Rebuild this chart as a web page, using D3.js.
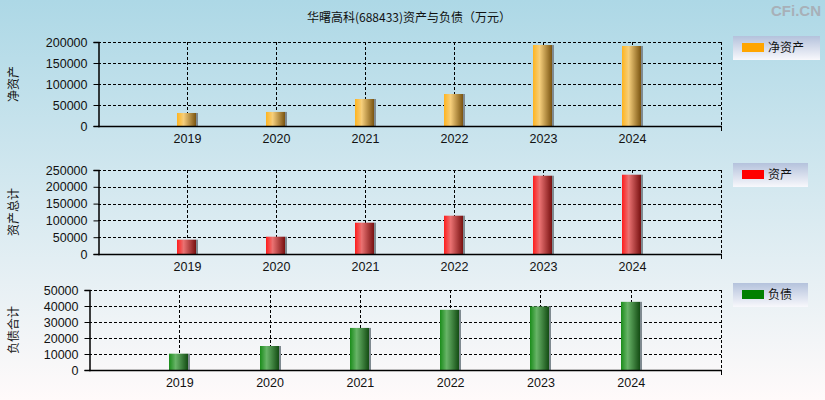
<!DOCTYPE html>
<html><head><meta charset="utf-8">
<script src="https://cdn.jsdelivr.net/npm/d3@7/dist/d3.min.js"></script>
<style>body{margin:0;padding:0;overflow:hidden}svg{display:block}</style>
</head><body>
<script>
const years = ["2019","2020","2021","2022","2023","2024"];
const netAssets = [31000, 33500, 64300, 76200, 192800, 190500];
const totalAssets = [42600, 51500, 93200, 114000, 233000, 236000];
const totalLiab = [10200, 15000, 26300, 37600, 39700, 42600];
const title = "华曙高科(688433)资产与负债（万元）";
const legendNames = ["净资产","资产","负债"];
const axisTitles = ["净资产","资产总计","负债合计"];

const W = 825, H = 400;
const svg = d3.select("body").append("svg").attr("width", W).attr("height", H);
const defs = svg.append("defs");
const bg = defs.append("linearGradient").attr("id","bg").attr("x1",0).attr("y1",0).attr("x2",0).attr("y2",1);
bg.append("stop").attr("offset","0%").attr("stop-color","#add8e6");
bg.append("stop").attr("offset","100%").attr("stop-color","#fffafa");
const lg = defs.append("linearGradient").attr("id","lg").attr("x1",0).attr("y1",0).attr("x2",0).attr("y2",1);
lg.append("stop").attr("offset","0%").attr("stop-color","#b4c2dc");
lg.append("stop").attr("offset","100%").attr("stop-color","#f8f8fc");

function barGrad(id, c0, c1, c2){
  const g = defs.append("linearGradient").attr("id",id).attr("x1",0).attr("y1",0).attr("x2",1).attr("y2",0);
  g.append("stop").attr("offset","0%").attr("stop-color",c0);
  g.append("stop").attr("offset","35%").attr("stop-color",c1);
  g.append("stop").attr("offset","100%").attr("stop-color",c2);
}
barGrad("gO","#ffb41e","#f6cf7c","#7a5410");
barGrad("gR","#ff1c1c","#ea7272","#781010");
barGrad("gG","#1a8c1a","#68b468","#134c13");

svg.append("rect").attr("width",W).attr("height",H).attr("fill","url(#bg)");

svg.append("text").attr("x",409).attr("y",22).attr("text-anchor","middle")
  .style("font-family","'Noto Sans CJK SC', sans-serif").style("font-size","12px").attr("fill","#111").text(title);
svg.append("text").attr("x",821).attr("y",16).attr("text-anchor","end")
  .style("font-family","'Liberation Sans', Arial, sans-serif").style("font-size","15px").style("font-weight","bold")
  .attr("fill","#a8b0b8").text("CFi.CN");

const panels = [
  {data: netAssets, left:98, right:721, top:42, bottom:126, max:200000, step:50000, grad:"gO", color:"#ffa500", legend:legendNames[0], atitle:axisTitles[0], lx:733, lw:87, ly:36, lh:24},
  {data: totalAssets, left:98, right:721, top:170, bottom:254, max:250000, step:50000, grad:"gR", color:"#ff0000", legend:legendNames[1], atitle:axisTitles[1], lx:733, lw:75, ly:163, lh:24},
  {data: totalLiab, left:89, right:721, top:290, bottom:370, max:50000, step:10000, grad:"gG", color:"#008000", legend:legendNames[2], atitle:axisTitles[2], lx:733, lw:75, ly:283, lh:24}
];

const numFont = "'Liberation Sans', Arial, sans-serif";
panels.forEach(p => {
  const x = d3.scalePoint().domain(years).range([p.left, p.right]).padding(1);
  const y = d3.scaleLinear().domain([0, p.max]).range([p.bottom, p.top]);
  const ticks = d3.range(0, p.max + 1, p.step);
  const g = svg.append("g");
  // horizontal grid
  g.selectAll(".hg").data(ticks.filter(t => t > 0)).enter().append("line")
    .attr("x1", p.left).attr("x2", p.right).attr("y1", d => Math.round(y(d))+0.5).attr("y2", d => Math.round(y(d))+0.5)
    .attr("stroke","#000").attr("stroke-dasharray","3,2");
  // vertical grid
  g.selectAll(".vg").data(years).enter().append("line")
    .attr("x1", d => Math.round(x(d))+0.5).attr("x2", d => Math.round(x(d))+0.5)
    .attr("y1", p.top).attr("y2", p.bottom)
    .attr("stroke","#000").attr("stroke-dasharray","3,2");
  g.append("line").attr("x1", p.right+0.5).attr("x2", p.right+0.5).attr("y1", p.top).attr("y2", p.bottom)
    .attr("stroke","#000").attr("stroke-dasharray","3,2");
  g.append("line").attr("x1", p.right+0.5).attr("x2", p.right+0.5).attr("y1", p.bottom).attr("y2", p.bottom+5)
    .attr("stroke","#000");
  // bars
  const bw = 19;
  g.selectAll(".sh").data(p.data).enter().append("rect")
    .attr("x", (d,i) => Math.round(x(years[i])) + 9).attr("width", 2)
    .attr("y", d => y(d)).attr("height", d => p.bottom - y(d)).attr("fill","#7f8a90");
  g.selectAll(".bar").data(p.data).enter().append("rect")
    .attr("x", (d,i) => Math.round(x(years[i])) - 10).attr("width", bw)
    .attr("y", d => y(d)).attr("height", d => p.bottom - y(d)).attr("fill","url(#"+p.grad+")");
  // axes
  const ya = d3.axisLeft(y).tickValues(ticks).tickSize(5).tickPadding(6).tickFormat(d3.format("d"));
  const yg = g.append("g").attr("transform","translate("+(p.left+0.5)+",0)").call(ya);
  yg.select(".domain").attr("stroke","#000").attr("stroke-width",1.5);
  yg.selectAll("text").style("font-family",numFont).style("font-size","12.5px").attr("fill","#111");
  const xa = d3.axisBottom(x).tickSize(0).tickPadding(8);
  const xg = g.append("g").attr("transform","translate(0,"+(p.bottom+0.5)+")").call(xa);
  xg.select(".domain").attr("d","M"+p.left+",0H"+(p.right+1)).attr("stroke","#000").attr("stroke-width",1.5);
  xg.selectAll("text").style("font-family",numFont).style("font-size","12.5px").attr("fill","#111");
  // axis title
  const cy = (p.top + p.bottom)/2;
  svg.append("text").attr("transform","translate(18,"+cy+") rotate(-90)").attr("text-anchor","middle")
    .style("font-family","'Noto Sans CJK SC', sans-serif").style("font-size","12px").attr("fill","#111").text(p.atitle);
  // legend
  const L = svg.append("g").attr("transform","translate("+p.lx+","+p.ly+")");
  L.append("rect").attr("width",p.lw).attr("height",p.lh).attr("fill","url(#lg)");
  L.append("rect").attr("x",9).attr("y",7).attr("width",22).attr("height",9).attr("fill",p.color);
  L.append("text").attr("x",35).attr("y",16).style("font-family","'Noto Sans CJK SC', sans-serif").style("font-size","12px")
    .attr("fill","#111").text(p.legend);
});
</script>
</body></html>
